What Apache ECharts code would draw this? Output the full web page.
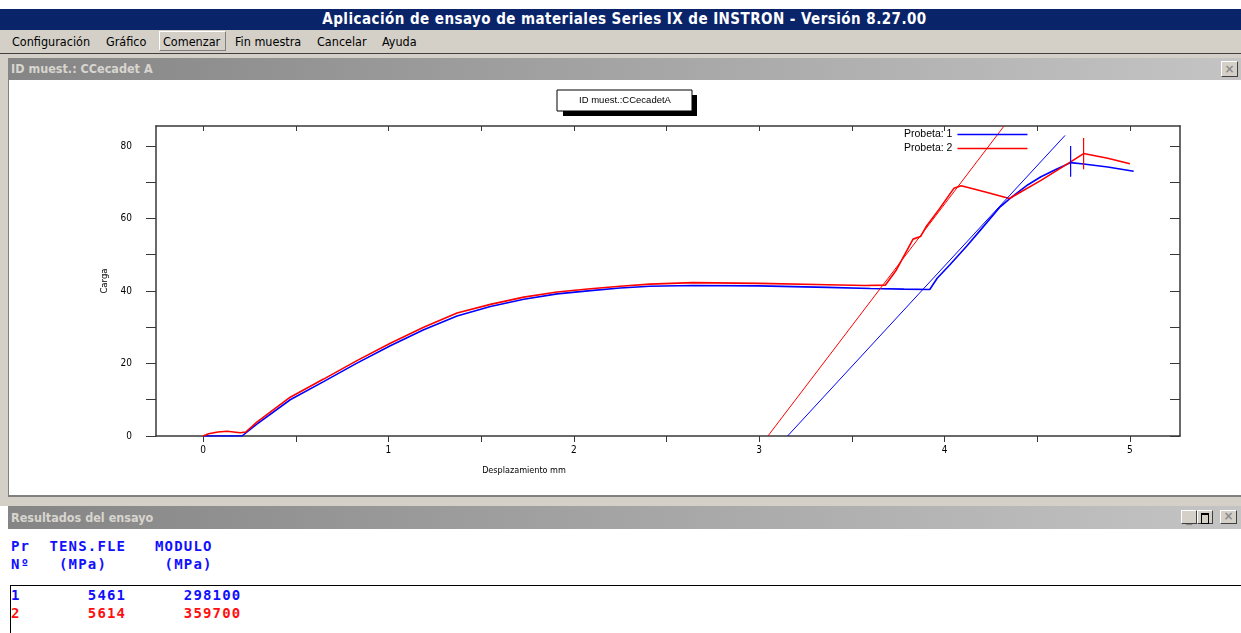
<!DOCTYPE html>
<html>
<head>
<meta charset="utf-8">
<title>Aplicación de ensayo de materiales Series IX de INSTRON</title>
<script src="https://cdn.jsdelivr.net/npm/echarts@6.0.0/dist/echarts.min.js"></script>
<style>
	body { margin: 0; width: 1241px; height: 633px; position: relative; overflow: hidden; background: #fff; font-family: 'DejaVu Sans Condensed', 'DejaVu Sans', sans-serif; }
	.abs { position: absolute; }
	#appTitle { left: 0; top: 9px; width: 1241px; height: 21px; background: #0a246a; color: #fff; font: bold 15px 'DejaVu Sans Condensed', 'DejaVu Sans', sans-serif; letter-spacing: 0.45px; line-height: 21px; text-align: center; padding-left: 8px; box-sizing: border-box; }
	#menuBar { left: 0; top: 30px; width: 1241px; height: 23px; background: #d4d0c8; border-bottom: 1px solid #404040; }
	#menuBar span { position: absolute; top: 4px; font-size: 12.5px; color: #000; white-space: nowrap; }
	#btnComenzar { left: 159px; top: 1px; width: 67px; height: 20px; border-top: 1px solid #fff; border-left: 1px solid #fff; border-right: 1px solid #808080; border-bottom: 1px solid #808080; box-sizing: border-box; }
	.frame { background: #d4d0c8; }
	.capBar { height: 22px; background: linear-gradient(to right, #858585, #c4c4c4); color: #d8d5cf; font: bold 12.5px 'DejaVu Sans Condensed', 'DejaVu Sans', sans-serif; line-height: 22px; padding-left: 3px; box-sizing: border-box; }
	.winBtn { width: 16px; height: 14px; background: #d4d0c8; border-top: 1px solid #fff; border-left: 1px solid #fff; border-right: 1px solid #404040; border-bottom: 1px solid #404040; box-sizing: border-box; color: #8a8a8a; font: bold 12px 'DejaVu Sans', sans-serif; line-height: 11px; text-align: center; }
	.mono { font: bold 14px 'DejaVu Sans Mono', monospace; letter-spacing: 1.17px; white-space: pre; }
	#chart { left: 0; top: 0; width: 1241px; height: 633px; z-index: 5; pointer-events: none; }
</style>
</head>
<body>

<div id="appTitle" class="abs">Aplicación de ensayo de materiales Series IX de INSTRON - Versión 8.27.00</div>

<div id="menuBar" class="abs">
	<div id="btnComenzar" class="abs"></div>
	<span style="left:12px">Configuración</span>
	<span style="left:106px">Gráfico</span>
	<span style="left:163px">Comenzar</span>
	<span style="left:235px">Fin muestra</span>
	<span style="left:317px">Cancelar</span>
	<span style="left:382px">Ayuda</span>
</div>

<!-- ventana del grafico -->
<div class="abs frame" style="left:0; top:54px; width:1241px; height:452px;"></div>
<div class="abs capBar" style="left:8px; top:58px; width:1233px;">ID muest.: CCecadet A</div>
<div class="abs winBtn" style="left:1221px; top:61px; width:17px; height:16px; line-height:14px;">×</div>
<div class="abs" style="left:8px; top:80px; width:1233px; height:415px; background:#fff; border-left:1px solid #808080;"></div>
<div class="abs" style="left:8px; top:495px; width:1233px; height:2px; background:#808080;"></div>

<!-- ventana de resultados -->
<div class="abs capBar" style="left:8px; top:506px; width:1233px; height:23px; line-height:23px;">Resultados del ensayo</div>
<div class="abs winBtn" style="left:1181px; top:510px; line-height:14px;">_</div>
<div class="abs winBtn" style="left:1197px; top:510px; color:#000;"><div style="margin:2px 3px; height:8px; border:1px solid #000; border-top-width:2px;"></div></div>
<div class="abs winBtn" style="left:1220px; top:510px; width:17px;">×</div>
<div class="abs" style="left:8px; top:529px; width:1233px; height:104px; background:#fff;"></div>
<div class="abs mono" style="left:11px; top:538px; color:#1010ff;">Pr  TENS.FLE   MODULO</div>
<div class="abs mono" style="left:11px; top:556px; color:#1010ff;">Nº   (MPa)      (MPa)</div>
<div class="abs" style="left:10px; top:585px; width:1231px; height:60px; border-top:1px solid #000; border-left:1px solid #000;"></div>
<div class="abs mono" style="left:11px; top:587px; color:#1010ff;">1       5461      298100</div>
<div class="abs mono" style="left:11px; top:605px; color:#ff1010;">2       5614      359700</div>

<div id="chart" class="abs"></div>

<script>
// ejes
var xTicks  = [0, 0.5, 1, 1.5, 2, 2.5, 3, 3.5, 4, 4.5, 5];
var xLabels = [0, 1, 2, 3, 4, 5];
var yTicks  = [0, 10, 20, 30, 40, 50, 60, 70, 80];
var yLabels = [0, 20, 40, 60, 80];

// Probeta 1 (azul): desplazamiento mm, carga
var probeta1 = [
	[0, 0], [0.21, 0], [0.29, 3.3], [0.47, 10], [0.65, 15], [0.83, 20.1], [1.01, 24.9],
	[1.19, 29.3], [1.37, 33.1], [1.55, 35.7], [1.73, 37.7], [1.91, 39.2], [2.09, 40.1],
	[2.25, 40.8], [2.41, 41.3], [2.64, 41.5], [3.0, 41.4], [3.37, 41.0], [3.6, 40.7],
	[3.78, 40.5], [3.92, 40.4], [3.96, 43.5], [4.03, 47.3], [4.12, 52.4], [4.2, 57.2],
	[4.3, 63.2], [4.36, 65.8], [4.45, 69.3], [4.52, 71.5], [4.6, 73.5], [4.68, 75.4],
	[4.75, 75.0], [4.88, 74.2], [5.02, 73.0]
];

// Probeta 2 (rojo)
var probeta2 = [
	[0, 0], [0.03, 0.6], [0.08, 1.1], [0.13, 1.3], [0.2, 0.9], [0.23, 1.1], [0.29, 3.8],
	[0.47, 10.7], [0.65, 15.7], [0.83, 20.8], [1.01, 25.6], [1.19, 30.0], [1.37, 33.9],
	[1.55, 36.3], [1.73, 38.3], [1.91, 39.7], [2.09, 40.6], [2.25, 41.3], [2.41, 41.9],
	[2.64, 42.3], [3.0, 42.1], [3.37, 41.7], [3.57, 41.5], [3.68, 41.6], [3.74, 45.8],
	[3.80, 51.5], [3.83, 54.3], [3.87, 55.0], [3.90, 57.7], [3.97, 62.5], [4.05, 68.3],
	[4.09, 69.0], [4.22, 67.3], [4.35, 65.5], [4.52, 70.5], [4.68, 75.6], [4.75, 77.9],
	[4.88, 76.6], [5.0, 75.1]
];

// rectas del modulo
var modulo1 = [[3.153, 0], [4.65, 82.9]];
var modulo2 = [[3.047, 0], [4.321, 85.5]];

// marcas de rotura
var rotura1 = [[4.68, 71.5], [4.68, 80]];
var rotura2 = [[4.75, 73.6], [4.75, 82.2]];

var azul = '#0000ff';
var rojo = '#ff0000';
var ejeColor = '#383838';
var fuenteEje = "'Liberation Sans Narrow', 'DejaVu Sans Condensed', sans-serif";

function linea(nombre, datos, color, ancho) {
	return {
		name: nombre,
		type: 'line',
		data: datos,
		symbol: 'none',
		color: color,
		lineStyle: { color: color, width: ancho },
		silent: true
	};
}

var chart = echarts.init(document.getElementById('chart'), null, { renderer: 'canvas' });

var option = {
	backgroundColor: 'transparent',
	animation: false,
	grid: { left: 156, top: 126, width: 1024, height: 310 },
	legend: {
		data: ['Probeta: 1', 'Probeta: 2'],
		orient: 'vertical',
		left: 904,
		top: 129,
		align: 'right',
		icon: 'rect',
		itemWidth: 70,
		itemHeight: 1.5,
		itemGap: 3,
		padding: 0,
		textStyle: { fontSize: 10.5, color: '#000', fontFamily: "'Liberation Sans', sans-serif" }
	},
	xAxis: [{
		type: 'value', position: 'bottom', min: -0.254, max: 5.27,
		name: 'Desplazamiento mm', nameLocation: 'middle', nameGap: 30,
		nameTextStyle: { fontSize: 9, color: '#000', fontFamily: fuenteEje, padding: [0, 288, 0, 0] },
		axisLine: { show: true, onZero: false, lineStyle: { color: ejeColor, width: 1.5 } },
		axisTick: { show: true, customValues: xTicks, length: 6, lineStyle: { color: ejeColor } },
		axisLabel: { customValues: xLabels, margin: 9, fontSize: 10, color: '#000', fontFamily: fuenteEje },
		splitLine: { show: false }
	}, {
		type: 'value', position: 'top', min: -0.254, max: 5.27,
		axisLine: { show: true, onZero: false, lineStyle: { color: ejeColor, width: 1.5 } },
		axisTick: { show: true, inside: true, customValues: xTicks, length: 5, lineStyle: { color: ejeColor } },
		axisLabel: { show: false },
		splitLine: { show: false }
	}],
	yAxis: [{
		type: 'value', position: 'left', min: 0, max: 85.5,
		name: 'Carga', nameLocation: 'middle', nameGap: 45,
		nameTextStyle: { fontSize: 9.5, color: '#000', fontFamily: fuenteEje },
		axisLine: { show: true, onZero: false, lineStyle: { color: ejeColor, width: 1.5 } },
		axisTick: { show: true, customValues: yTicks, length: 10, lineStyle: { color: ejeColor } },
		axisLabel: { customValues: yLabels, margin: 24, fontSize: 10, color: '#000', fontFamily: fuenteEje },
		splitLine: { show: false }
	}, {
		type: 'value', position: 'right', min: 0, max: 85.5,
		axisLine: { show: true, onZero: false, lineStyle: { color: ejeColor, width: 1.5 } },
		axisTick: { show: true, inside: true, customValues: yTicks, length: 10, lineStyle: { color: ejeColor } },
		axisLabel: { show: false },
		splitLine: { show: false }
	}],
	graphic: [
		{ type: 'rect', shape: { x: 563, y: 95, width: 134, height: 21 }, style: { fill: '#000' } },
		{ type: 'rect', shape: { x: 557, y: 90, width: 135, height: 21 }, style: { fill: '#fff', stroke: '#000', lineWidth: 1 } },
		{ type: 'text', x: 625, y: 100.5, style: { text: 'ID muest.:CCecadetA', align: 'center', verticalAlign: 'middle', font: "9.5px 'Liberation Sans', sans-serif", fill: '#000' } }
	],
	series: [
		linea('Probeta: 1', probeta1, azul, 1.6),
		linea('Probeta: 2', probeta2, rojo, 1.6),
		linea('Modulo 1', modulo1, azul, 1),
		linea('Modulo 2', modulo2, rojo, 1),
		linea('Rotura 1', rotura1, azul, 1.2),
		linea('Rotura 2', rotura2, rojo, 1.2)
	]
};

chart.setOption(option);
</script>
</body>
</html>
